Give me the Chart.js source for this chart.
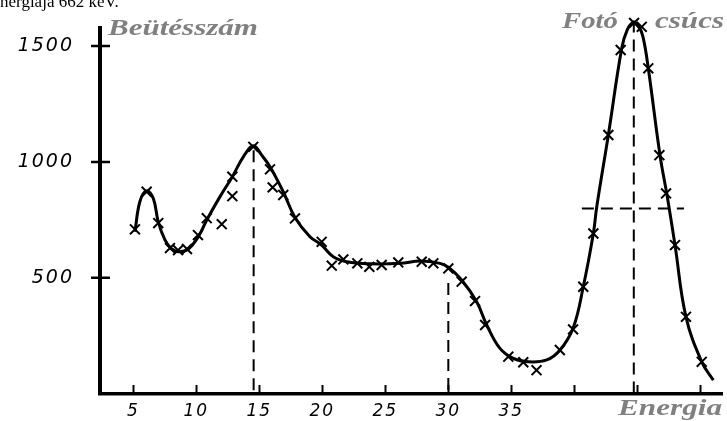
<!DOCTYPE html>
<html lang="hu">
<head>
<meta charset="UTF-8">
<title>Beütésszám – Energia</title>
<script src="https://cdn.jsdelivr.net/npm/chart.js"></script>
<style>
    html, body { margin: 0; padding: 0; background: #fff; }
</style>
</head>
<body>
<canvas id="spectrum" width="727" height="421"></canvas>
<script>
    // smooth fitted curve
    const curveEnergy = [5.13, 5.53, 6.06, 6.59, 6.98, 7.52, 8.05, 8.65, 9.37, 10.16, 10.83, 11.87, 12.86, 13.73,
        14.52, 15.19, 15.85, 16.9, 17.83, 19.02, 19.95, 20.87, 21.94, 23.79, 26.17, 27.76, 29.34, 30.0, 31.06,
        32.25, 33.05, 34.1, 35.16, 36.35, 37.81, 38.87, 39.92, 40.71, 41.51, 41.78, 42.7, 43.76, 44.2, 44.68, 45.1,
        45.45, 45.87, 46.8, 47.38, 47.99, 48.86, 50.11, 51.03];
    const curveCounts = [698, 830, 875, 842, 741, 662, 624, 612, 624, 677, 749, 849, 936, 1022,
        1070, 1029, 979, 871, 760, 677, 641, 590, 569, 560, 562, 572, 562, 545, 490,
        396, 296, 195, 152, 137, 145, 188, 285, 461, 691, 806, 1116, 1490, 1570, 1602, 1585,
        1540, 1404, 1029, 849, 641, 331, 137, 58];

    // measured points (x marks)
    const pointEnergy = [5.13, 6.06, 6.98, 7.91, 8.55, 9.26, 10.13, 10.83, 12.02, 12.86, 12.86, 14.52, 15.85, 16.06,
        16.9, 17.83, 19.95, 20.75, 21.67, 22.78, 23.73, 24.71, 26.03, 27.89, 28.81, 30.0, 31.06, 32.12, 32.92,
        34.76, 35.95, 37.0, 38.85, 39.9, 40.71, 41.51, 42.7, 43.68, 44.74, 45.35, 45.87, 46.75, 47.28, 47.99,
        48.86, 50.11];
    const pointCounts = [709, 871, 736, 628, 619, 624, 684, 757, 731, 936, 852, 1065, 968, 890,
        857, 756, 655, 552, 579, 562, 547, 555, 566, 569, 562, 540, 483, 399, 296,
        159, 135, 101, 188, 277, 461, 691, 1116, 1483, 1600, 1583, 1404, 1029, 864, 641,
        331, 137];

    // dashed guide lines: [energy1, count1, energy2, count2]
    const guideLines = [
        [14.55, 1050, 14.55, 0],
        [30.0, 477, 30.0, 0],
        [44.72, 1610, 44.72, 0],
        [40.6, 799, 48.7, 799]
    ];

    const xTickValues = [5, 10, 15, 20, 25, 30, 35, 40, 45, 50];
    const xTickLabels = ['5', '10', '15', '20', '25', '30', '35', '', '', ''];
    const yTickValues = [500, 1000, 1500];

    const grey = '#808080';

    const guideDatasets = guideLines.map(g => ({
        type: 'line',
        data: [{x: g[0], y: g[1]}, {x: g[2], y: g[3]}],
        borderColor: '#000',
        borderWidth: 2,
        borderDash: [12, 7],
        pointRadius: 0,
        tension: 0,
        clip: false
    }));

    // inner tick marks + free text labels
    const decorations = {
        id: 'decorations',
        beforeDraw(chart) {
            chart.ctx.letterSpacing = '2px';
        },
        beforeDatasetsDraw(chart) {
            const ctx = chart.ctx;
            const {x, y} = chart.scales;
            ctx.save();
            ctx.letterSpacing = '0px';
            ctx.strokeStyle = '#000';
            ctx.lineWidth = 2;
            ctx.beginPath();
            xTickValues.forEach(v => {
                const px = Math.round(x.getPixelForValue(v)) + 0.5;
                ctx.moveTo(px, y.bottom);
                ctx.lineTo(px, y.bottom - 9);
            });
            ctx.stroke();
            ctx.lineWidth = 2.5;
            ctx.beginPath();
            yTickValues.forEach(v => {
                const py = y.getPixelForValue(v);
                ctx.moveTo(x.left - 9, py);
                ctx.lineTo(x.left + 10, py);
            });
            ctx.stroke();
            ctx.restore();
        },
        afterDraw(chart) {
            const ctx = chart.ctx;
            ctx.save();
            ctx.textBaseline = 'alphabetic';
            ctx.textAlign = 'left';
            ctx.letterSpacing = '0px';

            // the original lettering is wider than any installed serif, so stretch it
            const label = (text, left, base, width) => {
                const w = ctx.measureText(text).width;
                ctx.save();
                ctx.translate(left, base);
                ctx.scale(width / w, 1);
                ctx.fillText(text, 0, 0);
                ctx.restore();
            };

            ctx.font = 'italic bold 23px "Liberation Serif"';
            ctx.fillStyle = grey;
            label('Beütésszám', 108, 35, 150);
            label('Fotó', 562, 28, 56);
            label('csúcs', 655, 28, 69);
            label('Energia', 618, 415, 104);

            // caption line cut off at the top of the picture
            ctx.font = '17px "Liberation Serif"';
            ctx.fillStyle = '#000';
            const off = ctx.measureText('e').width;
            ctx.fillText('energiája 662 keV.', -off, 7);
            ctx.restore();
        }
    };

    new Chart(document.getElementById('spectrum'), {
        type: 'line',
        data: {
            datasets: [
                {
                    data: curveEnergy.map((e, i) => ({x: e, y: curveCounts[i]})),
                    borderColor: '#000',
                    borderWidth: 3,
                    pointRadius: 0,
                    tension: 0.4,
                    clip: false
                },
                {
                    type: 'scatter',
                    data: pointEnergy.map((e, i) => ({x: e, y: pointCounts[i]})),
                    pointStyle: 'crossRot',
                    pointRadius: 7,
                    borderColor: '#000',
                    borderWidth: 2,
                    showLine: false,
                    clip: false
                },
                ...guideDatasets
            ]
        },
        options: {
            responsive: false,
            animation: false,
            events: [],
            layout: {
                autoPadding: false,
                padding: {top: 28, right: 5, left: 0, bottom: 0}
            },
            plugins: {
                legend: {display: false},
                tooltip: {enabled: false}
            },
            scales: {
                x: {
                    type: 'linear',
                    min: 2.357,
                    max: 51.72,
                    afterFit(scale) {
                        scale.height = 27;
                        scale.paddingLeft = 0;
                        scale.paddingRight = 0;
                    },
                    afterBuildTicks(scale) {
                        scale.ticks = xTickValues.map(v => ({value: v}));
                    },
                    grid: {display: false, drawTicks: false},
                    border: {display: true, color: '#000', width: 3.5},
                    ticks: {
                        padding: 7,
                        maxRotation: 0,
                        color: '#000',
                        font: {family: 'DejaVu Sans', style: 'italic', size: 17},
                        callback: (v, i) => xTickLabels[i]
                    }
                },
                y: {
                    min: -2,
                    max: 1578,
                    afterFit(scale) {
                        scale.width = 100;
                        scale.paddingTop = 0;
                        scale.paddingBottom = 0;
                    },
                    afterBuildTicks(scale) {
                        scale.ticks = yTickValues.map(v => ({value: v}));
                    },
                    grid: {display: false, drawTicks: false},
                    border: {display: true, color: '#000', width: 4},
                    ticks: {
                        padding: 26,
                        color: '#000',
                        font: {family: 'DejaVu Sans', style: 'italic', size: 19},
                        callback: v => String(v)
                    }
                }
            }
        },
        plugins: [decorations]
    });
</script>
</body>
</html>
